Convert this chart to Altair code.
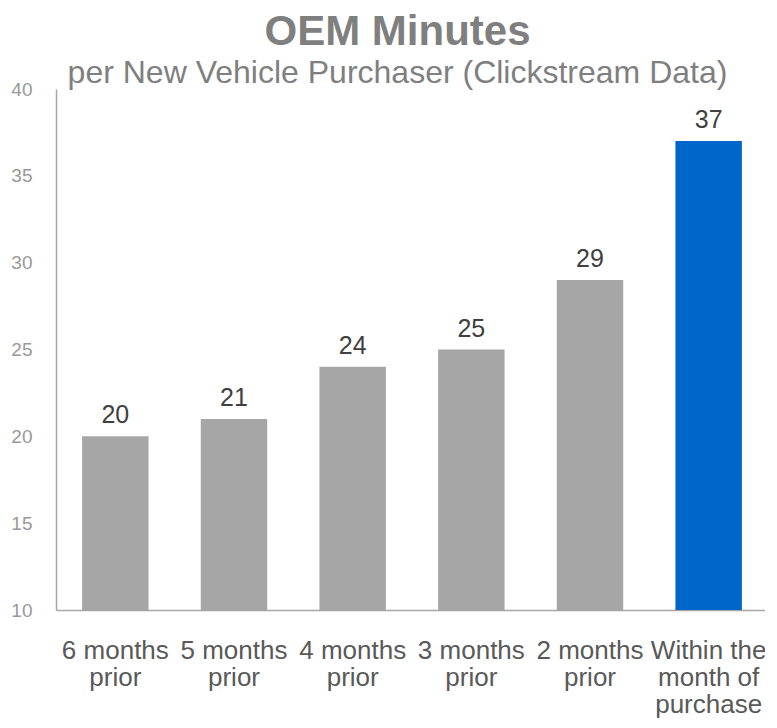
import altair as alt
import pandas as pd

categories = ["6 months\nprior", "5 months\nprior", "4 months\nprior",
              "3 months\nprior", "2 months\nprior", "Within the\nmonth of\npurchase"]
values = [20, 21, 24, 25, 29, 37]
highlight = [False, False, False, False, False, True]
y_ticks = [10, 15, 20, 25, 30, 35, 40]

df = pd.DataFrame({"cat": categories, "val": values, "hl": highlight})

FONT = "Liberation Sans"

x = alt.X("cat:N", sort=categories, title=None,
          scale=alt.Scale(range=[0, 712], paddingInner=0.44, paddingOuter=0.22),
          axis=alt.Axis(labelAngle=0, labelFontSize=26, labelColor="#595959",
                        labelFont=FONT, labelLineHeight=27, labelPadding=27,
                        labelExpr="split(datum.label, '\\n')",
                        ticks=False, domainColor="#a6a6a6", domainWidth=1.5,
                        labelLimit=300, labelOverlap=False, labelBound=False))
y = alt.Y("val:Q", title=None,
          scale=alt.Scale(domain=[10, 40], nice=False, zero=False),
          axis=alt.Axis(values=y_ticks, grid=False, ticks=False, labelPadding=24,
                        labelFontSize=19, labelColor="#999999", labelFont=FONT,
                        domainColor="#a6a6a6", domainWidth=1.5))

bars = alt.Chart(df).mark_bar(clip=False).encode(
    x=x, y=y,
    y2=alt.datum(10),
    color=alt.Color("hl:N", scale=alt.Scale(domain=[False, True],
                                            range=["#a6a6a6", "#0066cc"]),
                    legend=None),
)
labels = alt.Chart(df).mark_text(dy=-13, baseline="alphabetic", fontSize=25,
                                 color="#404040", font=FONT).encode(
    x=alt.X("cat:N", sort=categories),
    y="val:Q",
    text="val:Q",
)

chart = (bars + labels).properties(
    width=709, height=521,
    autosize=alt.AutoSizeParams(type="none"),
    padding={"left": 48, "top": 81, "right": 0, "bottom": 110},
    title=alt.TitleParams(
        text="OEM Minutes",
        subtitle="per New Vehicle Purchaser (Clickstream Data)",
        font=FONT, fontSize=42, fontWeight="bold", color="#7f7f7f",
        subtitleFont=FONT, subtitleFontSize=32, subtitleColor="#7f7f7f",
        subtitlePadding=4, anchor="middle", dx=-13, dy=12, offset=2,
    ),
).configure_view(stroke=None)

chart.save("out.html", embed_options={"renderer": "svg", "actions": False})
